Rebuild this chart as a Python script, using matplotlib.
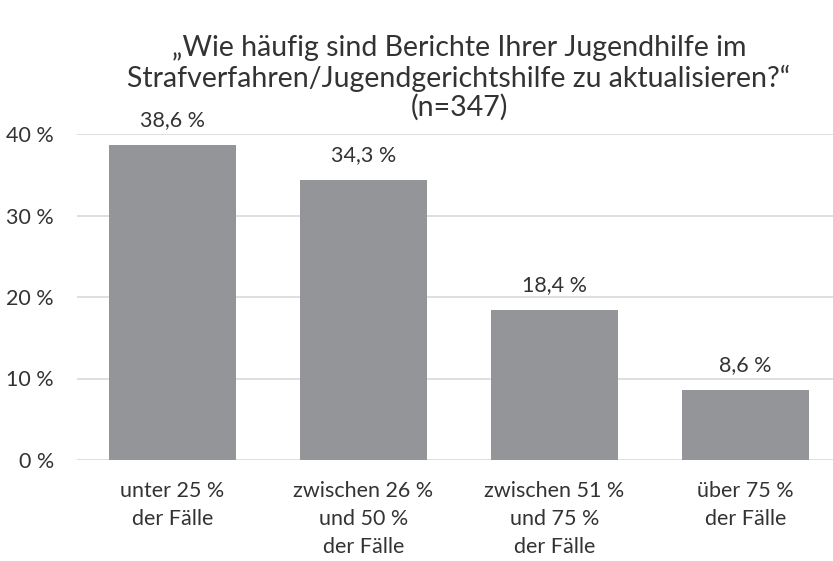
import matplotlib
matplotlib.use("Agg")
import matplotlib.pyplot as plt

categories = ["unter 25 %\nder Fälle", "zwischen 26 %\nund 50 %\nder Fälle",
              "zwischen 51 %\nund 75 %\nder Fälle", "über 75 %\nder Fälle"]
values = [38.6, 34.3, 18.4, 8.6]
yticks = [0, 10, 20, 30, 40]
title_lines = ["„Wie häufig sind Berichte Ihrer Jugendhilfe im",
               "Strafverfahren/Jugendgerichtshilfe zu aktualisieren?“",
               "(n=347)"]

plt.rcParams['font.family'] = ['Lato', 'DejaVu Sans']
txt = '#333333'

fig = plt.figure(figsize=(8.33, 5.61), dpi=100)
ax = fig.add_axes([77/833, 101/561, 764/833, 326/561])
x = list(range(len(values)))
ax.bar(x, values, width=0.666, color='#939598', zorder=3)
ax.set_xlim(-0.5, len(values) - 0.5)
ax.set_ylim(0, 40)
ax.set_yticks(yticks)
ax.set_yticklabels([f"{v} %" for v in yticks], fontsize=15.5, color=txt)
ax.set_xticks(x)
ax.set_xticklabels(categories, fontsize=15.5, color=txt, linespacing=1.5)
ax.tick_params(axis='y', length=0, pad=16.5)
ax.tick_params(axis='x', length=0, pad=15)
ax.grid(axis='y', color='#d9d9d9', linewidth=1.2, zorder=0)
for s in ax.spines.values():
    s.set_visible(False)
for xi, v in zip(x, values):
    ax.annotate(f"{v:.1f} %".replace('.', ','), (xi, v), xytext=(0, 11),
                textcoords='offset points', ha='center', va='bottom',
                fontsize=15.5, color=txt)
for line, yb in zip(title_lines, [56, 87, 116]):
    fig.text(459/833, 1 - yb/561, line, ha='center', va='baseline',
             fontsize=20.5, color=txt)
fig.savefig("out.png", dpi=100)
